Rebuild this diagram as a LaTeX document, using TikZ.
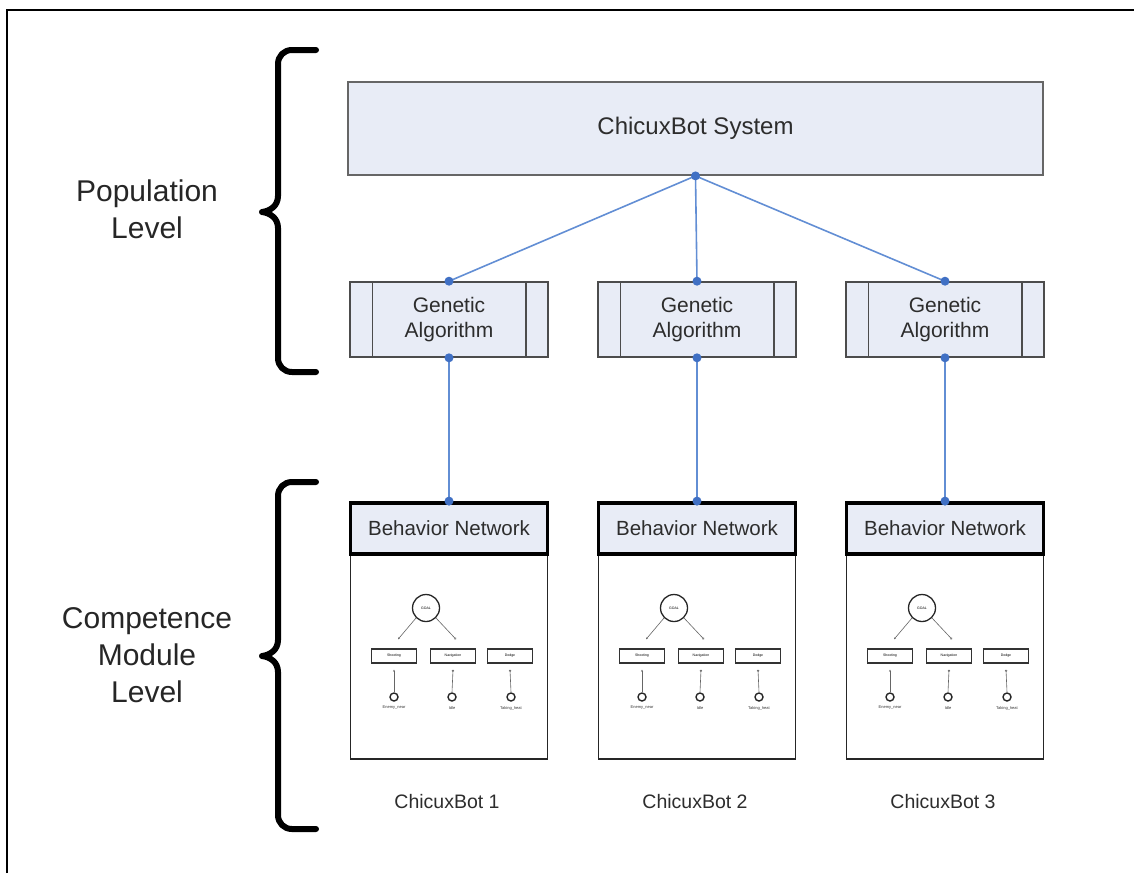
\documentclass[tikz,border=0pt]{standalone}
\usepackage{fontspec}
\setmainfont{Liberation Sans}
\usetikzlibrary{arrows.meta}
\definecolor{boxfill}{RGB}{232,236,246}
\definecolor{linkblue}{RGB}{98,142,212}
\definecolor{dotblue}{RGB}{64,112,196}
\definecolor{txt}{RGB}{45,45,45}
\begin{document}
\begin{tikzpicture}[x=1pt,y=-1pt,
  sysbox/.style={draw=gray!80!black,line width=1.8pt,fill=boxfill,minimum width=695pt,minimum height=93pt,
    text=txt,font=\fontsize{24}{28}\selectfont},
  gabox/.style={draw=black!70,line width=1.6pt,fill=boxfill,minimum width=198pt,minimum height=75pt,
    text=txt,align=center,font=\fontsize{21}{25}\selectfont},
  bnhead/.style={draw=black,line width=3.8pt,fill=boxfill,minimum width=197pt,minimum height=51pt,
    text=txt,font=\fontsize{20.5}{24}\selectfont},
  bnbody/.style={draw=black!85,line width=1.8pt,fill=white,minimum width=197pt,minimum height=204pt,anchor=north},
  botlabel/.style={text=txt,font=\fontsize{19.5}{23}\selectfont},
  levellabel/.style={text=black!85,align=center,font=\fontsize{30}{37}\selectfont},
  link/.style={draw=linkblue,line width=1.6pt},
  jdot/.style={circle,fill=dotblue,inner sep=0pt,minimum size=9pt},
  brace/.style={line width=6pt,line cap=round,line join=round},
  tinybox/.style={draw=black!80,line width=1.4pt,minimum width=45pt,minimum height=14pt,inner sep=0pt,
    font=\fontsize{3.5}{4}\selectfont},
  tinygoal/.style={circle,draw=black!85,line width=1.3pt,minimum size=27pt,inner sep=0pt,font=\fontsize{3.5}{4}\selectfont},
  tinysense/.style={circle,draw=black!85,line width=1.4pt,minimum size=8pt,inner sep=0pt},
  tinylabel/.style={font=\fontsize{4}{5}\selectfont,text=black!80},
  tinyarc/.style={draw=black!60,line width=0.6pt}
]
\useasboundingbox (0,0) rectangle (1134,873);

% page frame (top and left edges)
\draw[line width=1.4pt] (7,873) -- (7,10) -- (1134,10);

% level braces
\draw[brace] (316,50) -- (292,50) .. controls (284,50) and (278,56) .. (278,64) -- (278,196)
  .. controls (278,206) and (270,211) .. (262,212)
  .. controls (270,213) and (278,218) .. (278,228) -- (278,358)
  .. controls (278,366) and (284,372) .. (292,372) -- (316,372);
\draw[brace] (316,482) -- (292,482) .. controls (284,482) and (278,488) .. (278,496) -- (278,640)
  .. controls (278,650) and (270,655) .. (262,656)
  .. controls (270,657) and (278,662) .. (278,672) -- (278,815)
  .. controls (278,823) and (284,829) .. (292,829) -- (316,829);

\node[levellabel] (poplevel) at (147,209) {Population\\Level};
\node[levellabel] (complevel) at (147,655) {Competence\\Module\\Level};

% top-level system
\node[sysbox] (sys) at (695.5,128.5) {ChicuxBot System};

\foreach \i/\cx in {1/449,2/697,3/945}{
  % genetic algorithm block with side bars
  \node[gabox] (ga\i) at (\cx,319.5) {Genetic\\Algorithm};
  \draw[black!70,line width=1.4pt] ([xshift=23pt]ga\i.north west) -- ([xshift=23pt]ga\i.south west);
  \draw[black!70,line width=1.4pt] ([xshift=-23pt]ga\i.north east) -- ([xshift=-23pt]ga\i.south east);

  % behavior network module
  \node[bnbody] (body\i) at (\cx,554) {};
  \node[bnhead] (bn\i) at (\cx,528.5) {Behavior Network};
  \node[botlabel] (bot\i) at (\cx-2,802) {ChicuxBot \i};

  % links
  \draw[link] (sys.south) -- (ga\i.north);
  \draw[link] (ga\i.south) -- (bn\i.north);
  \node[jdot] at (ga\i.north) {};
  \node[jdot] at (ga\i.south) {};
  \node[jdot] at (bn\i.north) {};

  % miniature behavior network
  \begin{scope}[shift={(\cx-99,0)}]
    \node[tinygoal] (goal\i) at (76,608) {GOAL};
    \node[tinybox] (shoot\i) at (44,656) {Shooting};
    \node[tinybox] (nav\i) at (103,656) {Navigation};
    \node[tinybox] (dodge\i) at (160,656) {Dodge};
    \node[tinysense] (en\i) at (44,697) {};
    \node[tinysense] (id\i) at (102,697) {};
    \node[tinysense] (th\i) at (161,697) {};
    \node[tinylabel] at (44,708) {Enemy\_near};
    \node[tinylabel] at (102,708) {Idle};
    \node[tinylabel] at (161,708) {Taking\_heat};
    \draw[tinyarc,-{Stealth[length=2pt,width=2pt]}] (goal\i.225) -- ([xshift=4pt,yshift=9pt]shoot\i.north);
    \draw[tinyarc,-{Circle[open,length=2.2pt]}] (goal\i.-45) -- ([xshift=3pt,yshift=9pt]nav\i.north);
    \draw[tinyarc,-{Stealth[length=2pt,width=2pt]}] (en\i.north) -- ([yshift=-6pt]shoot\i.south);
    \draw[tinyarc,-{Circle[open,length=2.2pt]}] (id\i.north) -- ([yshift=-6pt]nav\i.south);
    \draw[tinyarc,-{Circle[open,length=2.2pt]}] (th\i.north) -- ([yshift=-6pt]dodge\i.south);
  \end{scope}
}
\node[jdot] at (sys.south) {};
\end{tikzpicture}
\end{document}
